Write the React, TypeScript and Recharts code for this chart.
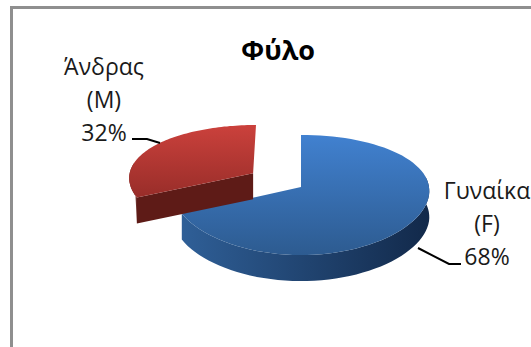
import { PieChart, Pie } from 'recharts';

const categories = ['Γυναίκα (F)', 'Άνδρας (M)'];
const shares = [68, 32];

const data = categories.map((name, i) => ({ name, value: shares[i] }));

const RADIAN = Math.PI / 180;
const FONT = '"Open Sans", sans-serif';

// pie plane tilt and perspective
const SQUASH = 0.461;
const PERSPECTIVE = 0.133;
const DEPTH = 26;

const SLICE_STYLES = [
    { explode: 0, scale: 1, top: ['#4181d0', '#2d5b90'], wall: ['#2f5f97', '#12294a'], cut: '#1d3c62' },
    { explode: 0.45, scale: 0.98, top: ['#cb413c', '#982d29'], wall: ['#6e201c', '#5c1b17'], cut: '#5e1b17' },
];

const LEADERS = [
    { line: [[117, 61], [148, 77], [160, 77]], textX: 186, textY: 12 },
    { line: [[-141, -44], [-154, -48], [-169, -48]], textX: -197, textY: -112 },
];
const LINE_GAP = 33;

// projects a point of the tilted pie plane (unit circle = rim) to the screen
const project = (cx: number, cy: number, r: number, px: number, py: number, drop = 0) => {
    const w = 1 + PERSPECTIVE * py;
    const wx = 1 + (PERSPECTIVE / 2) * py;
    return [cx + (r * px) / wx, cy - (r * SQUASH * py) / w + drop];
};

const toPath = (pts: number[][]) =>
    pts.map((p, i) => `${i ? 'L' : 'M'}${p[0].toFixed(1)},${p[1].toFixed(1)}`).join(' ') + ' Z';

const Slice3D = (props: any) => {
    const { cx, cy, outerRadius, startAngle, endAngle, midAngle, index } = props;
    const style = SLICE_STYLES[index];
    const ox = style.explode * Math.cos(midAngle * RADIAN);
    const oy = style.explode * Math.sin(midAngle * RADIAN);
    const at = (px: number, py: number, drop = 0) =>
        project(cx, cy, outerRadius, px * style.scale + ox, py * style.scale + oy, drop);

    const steps = 80;
    const rimAngles = Array.from({ length: steps + 1 }, (_, i) => startAngle + ((endAngle - startAngle) * i) / steps);
    const rim = (drop: number, angles = rimAngles) =>
        angles.map((a) => at(Math.cos(a * RADIAN), Math.sin(a * RADIAN), drop));

    const frontAngles = rimAngles.filter((a) => Math.sin(a * RADIAN) < 0.2);
    const first = startAngle * RADIAN;
    const apex = at(0, 0);
    const apexLow = at(0, 0, DEPTH);
    const cutTop = at(Math.cos(first), Math.sin(first));
    const cutLow = at(Math.cos(first), Math.sin(first), DEPTH);

    // the pulled-out slice shows only its cut face and a sliver of rim
    const wall =
        index === 1
            ? [...rim(0, frontAngles), cutLow]
            : [...rim(0, frontAngles), ...rim(DEPTH, frontAngles).reverse()];
    const cutFace = index === 1 ? [apex, cutTop, cutLow, apexLow] : [];

    return (
        <g>
            <defs>
                <linearGradient id={`top-${index}`} x1="0" y1="0" x2="0" y2="1">
                    <stop offset="0%" stopColor={style.top[0]} />
                    <stop offset="100%" stopColor={style.top[1]} />
                </linearGradient>
                <linearGradient id={`wall-${index}`} x1="0" y1="0" x2="1" y2="0">
                    <stop offset="0%" stopColor={style.wall[0]} />
                    <stop offset="100%" stopColor={style.wall[1]} />
                </linearGradient>
            </defs>
            <path d={toPath(wall)} fill={`url(#wall-${index})`} />
            {cutFace.length > 0 && <path d={toPath(cutFace)} fill={style.cut} />}
            <path d={toPath([apex, ...rim(0)])} fill={`url(#top-${index})`} />
        </g>
    );
};

const renderLabel = (props: any) => {
    const { cx, cy, index, name, percent } = props;
    const leader = LEADERS[index];
    const lines = [...String(name).split(' '), `${Math.round(percent * 100)}%`];
    return (
        <g>
            <polyline
                points={leader.line.map(([x, y]) => `${cx + x},${cy + y}`).join(' ')}
                fill="none"
                stroke="#000"
                strokeWidth={2}
            />
            {lines.map((line, i) => (
                <text
                    key={line}
                    x={cx + leader.textX}
                    y={cy + leader.textY + i * LINE_GAP}
                    textAnchor="middle"
                    fontFamily={FONT}
                    fontSize={23}
                    fill="#1a1a1a"
                >
                    {line}
                </text>
            ))}
        </g>
    );
};

export default function App() {
    return (
        <div style={{ position: 'absolute', left: 0, top: 0, width: 531, height: 347, background: '#fff', overflow: 'hidden' }}>
            <PieChart width={531} height={347} margin={{ top: 0, right: 0, bottom: 0, left: 0 }}>
                <line x1={11.5} y1={7} x2={11.5} y2={347} stroke="#8f8f8f" strokeWidth={3} />
                <line x1={10} y1={7.5} x2={531} y2={7.5} stroke="#8f8f8f" strokeWidth={3} />
                <text x={278} y={60} textAnchor="middle" fontFamily={FONT} fontWeight={700} fontSize={27} fill="#000">
                    Φύλο
                </text>
                <Pie
                    data={data}
                    dataKey="value"
                    nameKey="name"
                    cx={301}
                    cy={187}
                    outerRadius={128}
                    startAngle={90}
                    endAngle={-270}
                    paddingAngle={0}
                    stroke="none"
                    shape={Slice3D}
                    label={renderLabel}
                    labelLine={false}
                    isAnimationActive={false}
                />
            </PieChart>
        </div>
    );
}
